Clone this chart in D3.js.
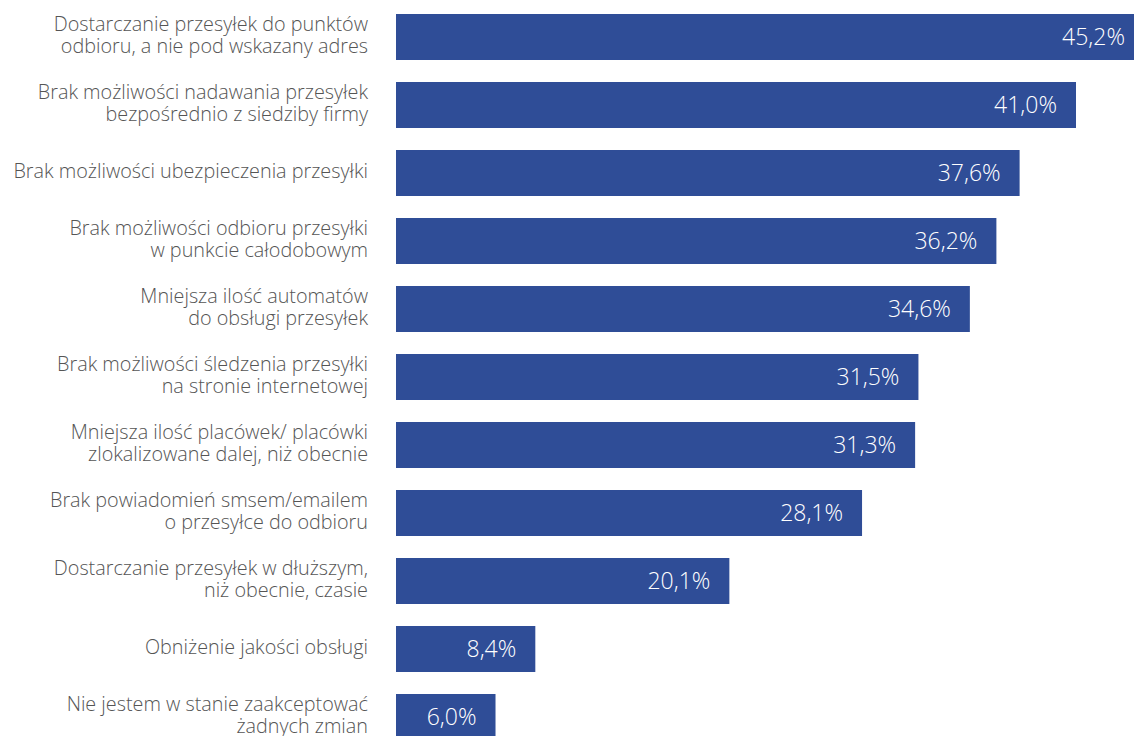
<!DOCTYPE html>
<html>
<head>
<meta charset="utf-8">
<script src="https://cdn.jsdelivr.net/npm/d3@7"></script>
<style>
  body { margin: 0; background: #fff; }
  svg { display: block; }
</style>
</head>
<body>
<div id="chart"></div>
<script>
let categories = [
    ['Dostarczanie przesyłek do punktów', 'odbioru, a nie pod wskazany adres'],
    ['Brak możliwości nadawania przesyłek', 'bezpośrednio z siedziby firmy'],
    ['Brak możliwości ubezpieczenia przesyłki'],
    ['Brak możliwości odbioru przesyłki', 'w punkcie całodobowym'],
    ['Mniejsza ilość automatów', 'do obsługi przesyłek'],
    ['Brak możliwości śledzenia przesyłki', 'na stronie internetowej'],
    ['Mniejsza ilość placówek/ placówki', 'zlokalizowane dalej, niż obecnie'],
    ['Brak powiadomień smsem/emailem', 'o przesyłce do odbioru'],
    ['Dostarczanie przesyłek w dłuższym,', 'niż obecnie, czasie'],
    ['Obniżenie jakości obsługi'],
    ['Nie jestem w stanie zaakceptować', 'żadnych zmian']
];
let values = [45.2, 41.0, 37.6, 36.2, 34.6, 31.5, 31.3, 28.1, 20.1, 8.4, 6.0];

const width = 1134, height = 736;
const barColor = '#2f4d97';

let svg = d3.select('#chart').append('svg')
    .attr('width', width)
    .attr('height', height);

// 0..41 maps onto 396..1076
let x = d3.scaleLinear().domain([0, 41]).range([396, 1076]);
let y = d3.scaleBand()
    .domain(d3.range(values.length))
    .range([14 - 11, 14 - 11 + 68 * values.length])
    .paddingInner(22 / 68)
    .paddingOuter(11 / 68);

let rows = svg.selectAll('g.row')
    .data(values)
    .enter().append('g')
    .attr('class', 'row');

rows.append('rect')
    .attr('x', x(0))
    .attr('y', (d, i) => y(i))
    .attr('width', d => x(d) - x(0))
    .attr('height', y.bandwidth())
    .attr('fill', barColor);

rows.append('text')
    .attr('x', d => Math.min(x(d), width + 10) - 19)
    .attr('y', (d, i) => y(i) + y.bandwidth() / 2)
    .attr('dy', '0.36em')
    .attr('text-anchor', 'end')
    .attr('fill', '#fff')
    .style('font-family', '"Open Sans", sans-serif')
    .style('font-weight', 300)
    .style('font-size', '23px')
    .text(d => d.toFixed(1).replace('.', ',') + '%');

let labels = rows.append('text')
    .attr('text-anchor', 'end')
    .attr('fill', '#555')
    .style('font-family', '"Open Sans", sans-serif')
    .style('font-weight', 300)
    .style('font-size', '19.8px');

labels.each(function (d, i) {
    let lines = categories[i];
    let mid = y(i) + y.bandwidth() / 2 - 2;
    let lh = 22.5;
    let top = mid - (lines.length - 1) * lh / 2;
    d3.select(this).selectAll('tspan')
        .data(lines)
        .enter().append('tspan')
        .attr('x', 368)
        .attr('y', (l, j) => top + j * lh)
        .attr('dy', '0.35em')
        .text(l => l);
});
</script>
</body>
</html>
